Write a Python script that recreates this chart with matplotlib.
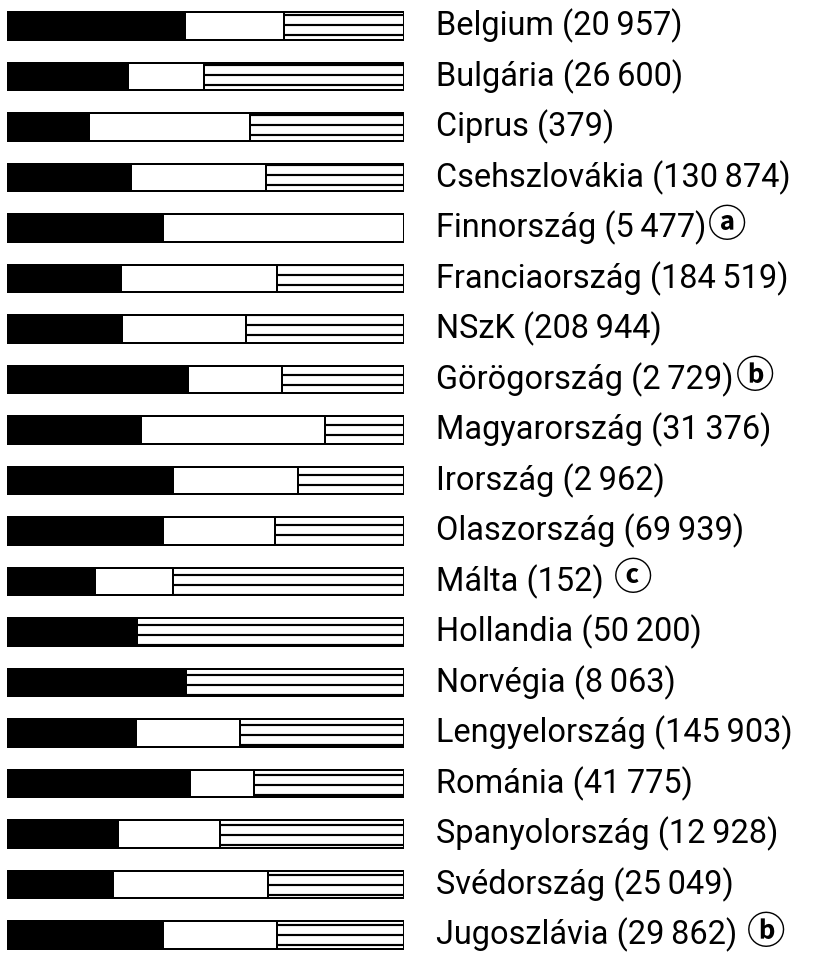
import matplotlib
matplotlib.use("Agg")
import matplotlib.pyplot as plt
import numpy as np

countries = ["Belgium", "Bulgária", "Ciprus", "Csehszlovákia", "Finnország",
             "Franciaország", "NSzK", "Görögország", "Magyarország", "Irország",
             "Olaszország", "Málta", "Hollandia", "Norvégia", "Lengyelország",
             "Románia", "Spanyolország", "Svédország", "Jugoszlávia"]
totals = [20957, 26600, 379, 130874, 5477, 184519, 208944, 2729, 31376, 2962,
          69939, 152, 50200, 8063, 145903, 41775, 12928, 25049, 29862]
notes = ["", "", "", "", "ⓐ", "", "", "ⓑ", "", "", "", "ⓒ", "", "", "", "", "", "", "ⓑ"]
note_gap = [0, 0, 0, 0, 2, 0, 0, 2, 0, 0, 0, 10, 0, 0, 0, 0, 0, 0, 10]

# shares (%) of the three segments
black_pct = [44.8, 30.5, 20.7, 31.2, 39.3, 28.7, 29.0, 45.6, 33.8, 41.8,
             39.3, 22.2, 32.7, 45.1, 32.5, 46.1, 28.0, 26.7, 39.3]
white_pct = [25.0, 19.1, 40.5, 34.0, 60.7, 39.3, 31.2, 23.7, 46.3, 31.5,
             28.2, 19.6, 0.0, 0.0, 26.2, 16.1, 25.7, 39.0, 28.7]
hatch_pct = [30.2, 50.4, 38.8, 34.8, 0.0, 32.0, 39.8, 30.7, 19.9, 26.7,
             32.5, 58.2, 67.3, 54.9, 41.3, 37.8, 46.3, 34.3, 32.0]

DPI = 120
W, H = 833, 955
plt.rcParams['hatch.linewidth'] = 1.3
plt.rcParams['hatch.color'] = 'black'

fig = plt.figure(figsize=(W / DPI, H / DPI), dpi=DPI)
left_px, right_px = 7, 404
ax = fig.add_axes([left_px / W, 0, (right_px - left_px) / W, 1])

y = np.arange(len(countries))
bh = 0.54
b = np.array(black_pct)
w = np.array(white_pct)
h = np.array(hatch_pct)
ax.barh(y, b, height=bh, color='black', edgecolor='black', linewidth=1.2)
ax.barh(y, w, left=b, height=bh, color='white', edgecolor='black', linewidth=1.2)
ax.barh(y, h, left=b + w, height=bh, color='white', edgecolor='black',
        linewidth=1.2, hatch='--')

ax.set_xlim(0, 100)
top_c, step = 26, 50.5
ax.set_ylim((H - top_c) / step, -top_c / step)
ax.axis('off')

def fmt(n):
    return f"{n:,}".replace(",", "\u2009")

text_x = (436 - left_px) / (right_px - left_px) * 100
for i, (c, t, nt, gap) in enumerate(zip(countries, totals, notes, note_gap)):
    label = f"{c} ({fmt(t)})"
    txt = ax.text(text_x, i, label, ha='left', va='center', fontsize=19.5,
                  family=['Roboto', 'DejaVu Sans'], clip_on=False)
    if nt:
        ax.annotate(nt, xy=(1, 0.58), xycoords=txt, xytext=(gap, 0),
                    textcoords='offset pixels', ha='left', va='center',
                    fontsize=23, fontweight='bold',
                    family=['Noto Sans CJK JP', 'DejaVu Sans'],
                    annotation_clip=False)

fig.savefig("out.png", dpi=DPI)
